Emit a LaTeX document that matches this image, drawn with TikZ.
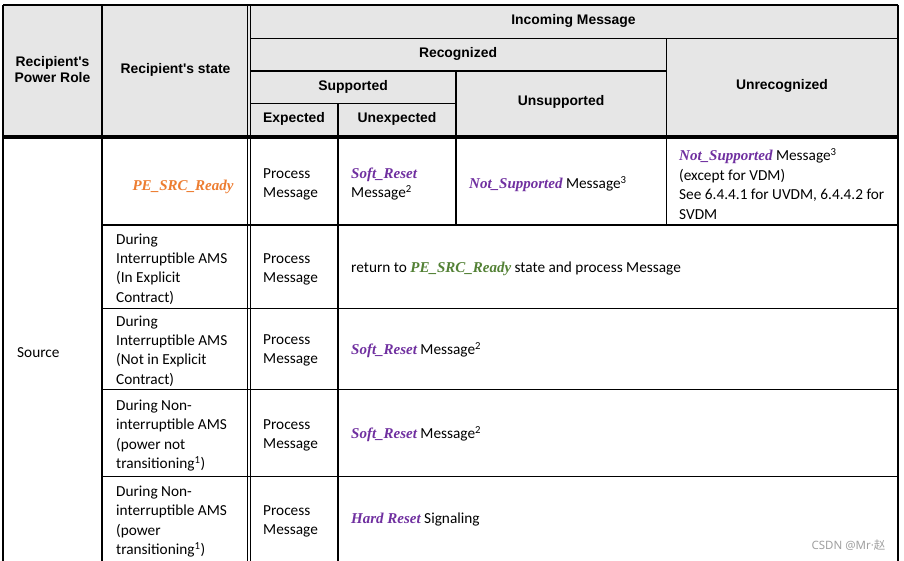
\documentclass[tikz,border=0pt]{standalone}
\usepackage{fontspec}
\setmainfont{Carlito}
\newfontfamily\hdfont{Liberation Sans}
\newfontfamily\kwfont{Liberation Serif}
\newfontfamily\wmfont{Noto Sans CJK SC}
\newfontfamily\wmlatin{Noto Sans}
\definecolor{hdgray}{HTML}{E6E6E6}
\definecolor{kworange}{HTML}{ED7D31}
\definecolor{kwpurple}{HTML}{7030A0}
\definecolor{kwgreen}{HTML}{538135}
\definecolor{wmgray}{HTML}{A0A0A0}
\newcommand{\kw}[2]{{\kwfont\bfseries\itshape\fontsize{15}{19.4}\selectfont\color{#1}#2}}
\tikzset{
  hd/.style={font=\hdfont\bfseries\fontsize{13.9}{16.6}\selectfont, align=center, inner sep=0pt},
  bd/.style={font=\fontsize{15.3}{19.4}\selectfont, align=left, inner sep=0pt, anchor=west},
  rule/.style={line width=1.1pt},
  thickrule/.style={line width=4pt},
}
\begin{document}
\begin{tikzpicture}[x=1pt,y=-1pt]
\useasboundingbox (0,0) rectangle (904,561);
\fill[white] (0,0) rectangle (904,561);
% header background
\fill[hdgray] (3,5) rectangle (898,137);
% grid
\draw[rule] (3,5) -- (898,5);
\draw[rule] (3,5) -- (3,561);
\draw[rule] (898,5) -- (898,561);
\draw[rule] (102,5) -- (102,561);
\draw[line width=0.9pt] (247.8,5) -- (247.8,561);
\draw[line width=0.9pt] (250.6,5) -- (250.6,561);
\draw[rule] (250,38.3) -- (898,38.3);
\draw[rule] (250,71) -- (666.5,71);
\draw[rule] (250,103.5) -- (456,103.5);
\draw[rule] (338,103.5) -- (338,561);
\draw[rule] (456,71) -- (456,225);
\draw[rule] (666.5,38.3) -- (666.5,225);
\draw[rule] (102,225) -- (898,225);
\draw[rule] (102,308.3) -- (898,308.3);
\draw[rule] (102,389.3) -- (898,389.3);
\draw[rule] (102,476.7) -- (898,476.7);
\draw[thickrule] (3,137.5) -- (898,137.5);
% header texts
\node[hd] (hrole) at (52.5,69.5) {Recipient's\\Power Role};
\node[hd] (hstate) at (175.5,69.5) {Recipient's state};
\node[hd] (hin) at (573.5,21.2) {Incoming Message};
\node[hd] (hrec) at (458,53.5) {Recognized};
\node[hd] (hsup) at (353,86.5) {Supported};
\node[hd] (hunsup) at (561,101.5) {Unsupported};
\node[hd] (hunrec) at (782,86) {Unrecognized};
\node[hd] (hexp) at (294,119) {Expected};
\node[hd] (hunexp) at (397,119) {Unexpected};
% body
\node[bd] (src) at (17,352.5) {Source};
% row 1
\node[inner sep=0pt] (s1) at (183,187) {\kw{kworange}{PE\_SRC\_Ready}};
\node[bd] (p1) at (263,184.3) {Process\\Message};
\node[bd] (u1) at (351,184.3) {\kw{kwpurple}{Soft\_Reset}\\Message\textsuperscript{2}};
\node[bd] (n1) at (469,184.5) {\kw{kwpurple}{Not\_Supported} Message\textsuperscript{3}};
\node[bd] (r1) at (679,184) {\kw{kwpurple}{Not\_Supported} Message\textsuperscript{3}\\(except for VDM)\\See 6.4.4.1 for UVDM, 6.4.4.2 for\\SVDM};
% row 2
\node[bd] (s2) at (116,268.9) {During\\Interruptible AMS\\(In Explicit\\Contract)};
\node[bd] (p2) at (263,269.3) {Process\\Message};
\node[bd] (a2) at (351,268.5) {return to \kw{kwgreen}{PE\_SRC\_Ready} state and process Message};
% row 3
\node[bd] (s3) at (116,351) {During\\Interruptible AMS\\(Not in Explicit\\Contract)};
\node[bd] (p3) at (263,350.6) {Process\\Message};
\node[bd] (a3) at (351,350.5) {\kw{kwpurple}{Soft\_Reset} Message\textsuperscript{2}};
% row 4
\node[bd] (s4) at (116,435.7) {During Non-\\interruptible AMS\\(power not\\transitioning\textsuperscript{1})};
\node[bd] (p4) at (263,435.3) {Process\\Message};
\node[bd] (a4) at (351,434.5) {\kw{kwpurple}{Soft\_Reset} Message\textsuperscript{2}};
% row 5
\node[bd] (s5) at (116,521.7) {During Non-\\interruptible AMS\\(power\\transitioning\textsuperscript{1})};
\node[bd] (p5) at (263,521.3) {Process\\Message};
\node[bd] (a5) at (351,519.5) {\kw{kwpurple}{Hard Reset} Signaling};
% watermark
\node[text=wmgray, inner sep=0pt] (wm) at (848.5,545) {\wmlatin\fontsize{11.5}{14}\selectfont CSDN @Mr·\wmfont 赵};
\end{tikzpicture}
\end{document}
